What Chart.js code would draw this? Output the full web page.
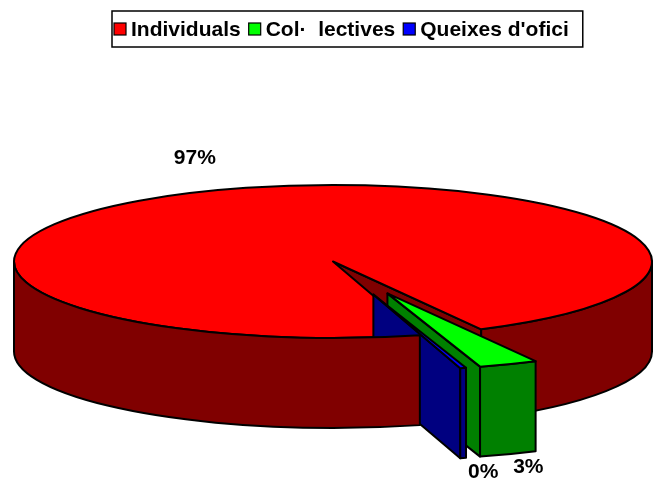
<!DOCTYPE html>
<html>
<head>
<meta charset="utf-8">
<script src="https://cdn.jsdelivr.net/npm/chart.js@4.4.1/dist/chart.umd.min.js"></script>
<style>
  html, body { margin: 0; padding: 0; background: #fff; }
</style>
</head>
<body>
<canvas id="pie" width="653" height="488"></canvas>
<script>
// ---- data ----
const categories = ["Individuals", "Col·  lectives", "Queixes d'ofici"];
const shares = [96.7, 3.0, 0.3];
const pctLabels = ["97%", "3%", "0%"];

// ---- style ----
const topColors = ["#ff0000", "#00ff00", "#0000ff"];
const sideColors = ["#800000", "#008000", "#000080"];
const TILT = 0.24;     // ellipse ry / rx
const DEPTH = 0.282;   // wall height / rx
const EXPLODE = 0.45;  // pulled-out distance / rx
const FONT = "bold 21px 'Liberation Sans', Arial, sans-serif";
const LINE = 2;

const TWO_PI = Math.PI * 2;

// front-facing parts of an arc range (angles where sin > 0)
function frontSpans(a0, a1) {
  const out = [];
  for (let n = -2; n <= 2; n++) {
    const s = Math.max(a0, n * TWO_PI);
    const e = Math.min(a1, n * TWO_PI + Math.PI);
    if (e > s) out.push([s, e]);
  }
  return out;
}

const pie3d = {
  id: "pie3d",
  beforeDatasetsDraw(chart) {
    const ctx = chart.ctx;
    const area = chart.chartArea;
    const arcs = chart.getDatasetMeta(0).data;
    const ds = chart.data.datasets[0];
    const rx = (area.right - area.left) / 2;
    const ry = rx * TILT;
    const h = rx * DEPTH;

    const geo = arcs.map((a, i) => {
      const m = (a.startAngle + a.endAngle) / 2;
      const d = (ds.explode[i] || 0) * rx;
      return {
        i, a0: a.startAngle, a1: a.endAngle, m,
        ox: a.x + d * Math.cos(m),
        oy: a.y + d * Math.sin(m) * TILT
      };
    });

    ctx.save();
    ctx.lineWidth = LINE;
    ctx.lineJoin = "round";
    ctx.strokeStyle = "#000";

    function paint(fill) {
      ctx.fillStyle = fill;
      ctx.fill();
      ctx.stroke();
    }
    function top(g) {
      ctx.beginPath();
      ctx.moveTo(g.ox, g.oy);
      ctx.ellipse(g.ox, g.oy, rx, ry, 0, g.a0, g.a1);
      ctx.closePath();
      paint(topColors[g.i]);
    }
    function wall(g, t0, t1) {
      ctx.beginPath();
      ctx.ellipse(g.ox, g.oy, rx, ry, 0, t0, t1);
      ctx.ellipse(g.ox, g.oy + h, rx, ry, 0, t1, t0, true);
      ctx.closePath();
      paint(sideColors[g.i]);
    }
    function face(g, e) {
      const px = g.ox + rx * Math.cos(e), py = g.oy + ry * Math.sin(e);
      ctx.beginPath();
      ctx.moveTo(g.ox, g.oy);
      ctx.lineTo(px, py);
      ctx.lineTo(px, py + h);
      ctx.lineTo(g.ox, g.oy + h);
      ctx.closePath();
      paint(sideColors[g.i]);
    }
    function faces(g) {
      if (Math.cos(g.a0) < 0) face(g, g.a0);
      if (Math.cos(g.a1) > 0) face(g, g.a1);
    }

    const main = geo.filter(g => !(ds.explode[g.i] > 0));
    const out = geo.filter(g => ds.explode[g.i] > 0);

    // slices at rest: cut faces, right-hand walls, then top
    main.forEach(g => {
      faces(g);
      frontSpans(g.a0, g.a1).forEach(([s, e]) => {
        if (Math.cos((s + e) / 2) >= 0) wall(g, s, e);
      });
      top(g);
    });
    // pulled-out slices
    out.forEach(g => faces(g));
    out.forEach(g => frontSpans(g.a0, g.a1).forEach(([s, e]) => wall(g, s, e)));
    out.forEach(g => top(g));
    // left-hand walls of the slices at rest sit in front
    main.forEach(g => {
      frontSpans(g.a0, g.a1).forEach(([s, e]) => {
        if (Math.cos((s + e) / 2) < 0) wall(g, s, e);
      });
    });

    // percentage labels, just outside the rim
    ctx.fillStyle = "#000";
    ctx.font = FONT;
    ctx.textAlign = "center";
    ctx.textBaseline = "middle";
    geo.forEach(g => {
      const c = Math.cos(g.m), s = Math.sin(g.m);
      const x = g.ox + rx * c + 20 * Math.sign(c);
      const y = g.oy + (ry + 35) * s + (s > 0 ? h * 0.78 : 0);
      ctx.fillText(pctLabels[g.i], x, y);
    });
    ctx.restore();
    return false;
  },
  afterDraw(chart) {
    const ctx = chart.ctx;
    const box = 12, gapBox = 5, gapItem = 8, padL = 2, padR = 14;
    const left = 112, topY = 11, height = 36;
    ctx.save();
    ctx.font = FONT;
    const widths = categories.map(t => ctx.measureText(t).width);
    let total = padL + padR;
    widths.forEach((w, i) => { total += box + gapBox + w + (i ? gapItem : 0); });

    ctx.lineWidth = 1.5;
    ctx.strokeStyle = "#000";
    ctx.strokeRect(left, topY, total, height);

    const mid = topY + height / 2;
    let x = left + padL;
    ctx.textBaseline = "middle";
    ctx.textAlign = "left";
    categories.forEach((t, i) => {
      ctx.fillStyle = topColors[i];
      ctx.fillRect(x, mid - box / 2, box, box);
      ctx.lineWidth = 1.2;
      ctx.strokeRect(x, mid - box / 2, box, box);
      x += box + gapBox;
      ctx.fillStyle = "#000";
      ctx.fillText(t, x, mid + 1);
      x += widths[i] + gapItem;
    });
    ctx.restore();
  }
};

new Chart(document.getElementById("pie"), {
  type: "pie",
  data: {
    labels: categories,
    datasets: [{
      data: shares,
      backgroundColor: topColors,
      borderWidth: 0,
      explode: [0, EXPLODE, EXPLODE]
    }]
  },
  options: {
    responsive: false,
    animation: false,
    devicePixelRatio: 1,
    rotation: 164.2,
    layout: { padding: { left: 14, right: 1, top: 60, bottom: 25 } },
    plugins: {
      legend: { display: false },
      tooltip: { enabled: false }
    }
  },
  plugins: [pie3d]
});
</script>
</body>
</html>
